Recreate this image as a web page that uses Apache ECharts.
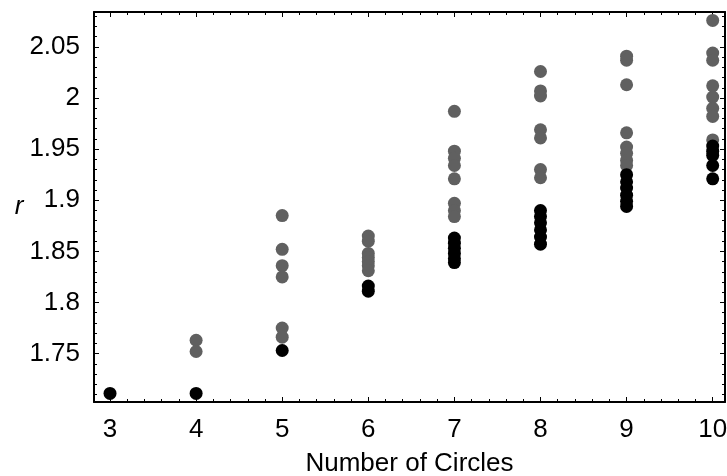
<!DOCTYPE html>
<html>
<head>
<meta charset="utf-8">
<script src="https://cdn.jsdelivr.net/npm/echarts@6/dist/echarts.min.js"></script>
<style>
  html, body { margin: 0; padding: 0; background: #fff; }
  #chart { width: 727px; height: 476px; }
</style>
</head>
<body>
<div id="chart"></div>
<script>
// 数据：每个圆数 n 对应的 r 值
var circleCounts = [3, 4, 5, 6, 7, 8, 9, 10];
// 灰色点
var grayR = {
    4: [1.763, 1.752],
    5: [1.885, 1.852, 1.836, 1.825, 1.775, 1.766],
    6: [1.865, 1.860, 1.848, 1.844, 1.840, 1.836, 1.831],
    7: [1.987, 1.948, 1.941, 1.934, 1.921, 1.897, 1.890, 1.884],
    8: [2.026, 2.007, 2.002, 1.969, 1.961, 1.930, 1.922],
    9: [2.041, 2.037, 2.013, 1.966, 1.952, 1.946, 1.939, 1.934],
    10: [2.076, 2.044, 2.037, 2.012, 2.001, 1.990, 1.982, 1.959]
};
// 黑色点
var blackR = {
    3: [1.711],
    4: [1.711],
    5: [1.753],
    6: [1.816, 1.811],
    7: [1.863, 1.858, 1.853, 1.848, 1.843, 1.839],
    8: [1.890, 1.884, 1.878, 1.871, 1.864, 1.857],
    9: [1.925, 1.918, 1.912, 1.905, 1.899, 1.894],
    10: [1.953, 1.948, 1.944, 1.934, 1.921]
};
// 刻度
var xTicks = [3, 4, 5, 6, 7, 8, 9, 10];
var yTicks = [1.75, 1.8, 1.85, 1.9, 1.95, 2, 2.05];
var xMinorStep = 0.2;
var yMinorStep = 0.01;

(function() {
    var myChart = echarts.init(document.getElementById("chart"));

    var xMin = 2.814, xMax = 10.143;
    var yMin = 1.7026, yMax = 2.0842;

    function toPairs(obj) {
        var out = [];
        circleCounts.forEach(function(n) {
            (obj[n] || []).forEach(function(r) { out.push([n, r]); });
        });
        return out;
    }

    // 次刻度位置（避开主刻度）
    function minorTicks(min, max, step) {
        var out = [];
        var k = Math.ceil(min / step - 1e-9);
        for (var v = k * step; v <= max + 1e-9; v = (++k) * step) {
            out.push(Math.round(v * 1000) / 1000);
        }
        return out;
    }
    var xMinor = minorTicks(xMin, xMax, xMinorStep).filter(function(v) {
        return xTicks.indexOf(v) < 0;
    });
    var yMinor = minorTicks(yMin, yMax, yMinorStep).filter(function(v) {
        return yTicks.indexOf(v) < 0;
    });

    var font = "'Liberation Sans', Arial, sans-serif";

    function xAxisOf(pos, values, len, main, label) {
        return {
            type: "value",
            position: pos,
            min: xMin,
            max: xMax,
            axisLine: { show: main, onZero: false, lineStyle: { color: "#000", width: 2 } },
            axisTick: { show: true, inside: true, length: len, customValues: values,
                lineStyle: { color: "#000", width: 1 } },
            axisLabel: { show: label, customValues: values, color: "#000",
                fontSize: 26, fontFamily: font, margin: 15 },
            splitLine: { show: false }
        };
    }
    function yAxisOf(pos, values, len, main, label) {
        return {
            type: "value",
            position: pos,
            min: yMin,
            max: yMax,
            axisLine: { show: main, onZero: false, lineStyle: { color: "#000", width: 2 } },
            axisTick: { show: true, inside: true, length: len, customValues: values,
                lineStyle: { color: "#000", width: 1 } },
            axisLabel: { show: label, customValues: values, color: "#000",
                fontSize: 26, fontFamily: font, margin: 14 },
            splitLine: { show: false }
        };
    }

    var xMain = xAxisOf("bottom", xTicks, 5, true, true);
    xMain.name = "Number of Circles";
    xMain.nameLocation = "middle";
    xMain.nameGap = 49;
    xMain.nameTextStyle = { color: "#000", fontSize: 26, fontFamily: font };

    var yMain = yAxisOf("left", yTicks, 5, true, true);
    yMain.name = "r";
    yMain.nameLocation = "middle";
    yMain.nameRotate = 0;
    yMain.nameGap = 69;
    yMain.nameTextStyle = { color: "#000", fontSize: 26, fontStyle: "italic", fontFamily: font };

    var option = {
        backgroundColor: "#fff",
        animation: false,
        grid: {
            left: 94,
            right: 2,
            top: 12,
            bottom: 74,
            containLabel: false,
            outerBoundsMode: "none"
        },
        xAxis: [
            xMain,
            xAxisOf("bottom", xMinor, 3, false, false),
            xAxisOf("top", xTicks, 5, true, false),
            xAxisOf("top", xMinor, 3, false, false)
        ],
        yAxis: [
            yMain,
            yAxisOf("left", yMinor, 3, false, false),
            yAxisOf("right", yTicks, 5, true, false),
            yAxisOf("right", yMinor, 3, false, false)
        ],
        series: [{
                name: "gray",
                type: "scatter",
                symbol: "circle",
                symbolSize: 13,
                itemStyle: { color: "#606060", opacity: 1 },
                data: toPairs(grayR)
            },
            {
                name: "black",
                type: "scatter",
                symbol: "circle",
                symbolSize: 13,
                itemStyle: { color: "#000", opacity: 1 },
                data: toPairs(blackR)
            }
        ]
    };

    myChart.setOption(option);
    window.addEventListener("resize", function() {
        myChart.resize();
    });
})();
</script>
</body>
</html>
